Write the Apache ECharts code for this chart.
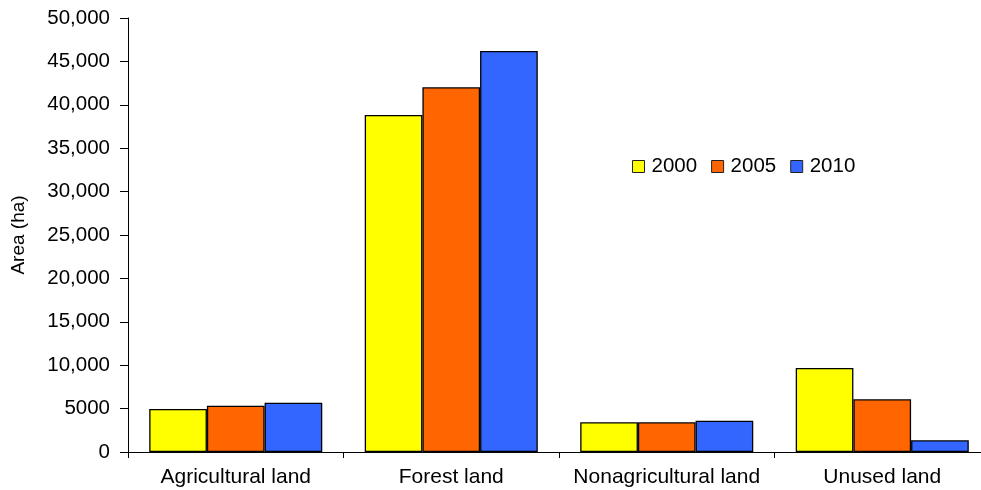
<!DOCTYPE html>
<html>
<head>
<meta charset="utf-8">
<script src="https://cdn.jsdelivr.net/npm/echarts@6/dist/echarts.min.js"></script>
<style>
  html, body { margin: 0; padding: 0; background: #fff; overflow: hidden; }
  /* the drawing surface is a little wider than the window so the category
     axis can run past the right edge */
  #chart { width: 1000px; height: 490px; }
</style>
</head>
<body>
<div id="chart"></div>
<script>
// Land-use area by category, three survey years
const categories = ['Agricultural land', 'Forest land', 'Nonagricultural land', 'Unused land'];
const years = ['2000', '2005', '2010'];
const area2000 = [4950, 38830, 3420, 9680];
const area2005 = [5330, 42020, 3420, 6070];
const area2010 = [5680, 46200, 3600, 1350];
const yTicks = [0, 5000, 10000, 15000, 20000, 25000, 30000, 35000, 40000, 45000, 50000];
const colors = ['#FFFF00', '#FF6600', '#3366FF'];

const font = 'Liberation Sans, Arial, sans-serif';
const seriesData = [area2000, area2005, area2010];

// Four-digit values are written without a thousands separator
function fmt(v) {
  if (v < 10000) return String(v);
  return v.toLocaleString('en-US');
}

const chart = echarts.init(document.getElementById('chart'));
chart.setOption({
  animation: false,
  backgroundColor: '#fff',
  color: colors,
  legend: {
    left: 632,
    top: 156,
    padding: 0,
    itemWidth: 12,
    itemHeight: 12,
    itemGap: 14,
    icon: 'rect',
    itemStyle: { borderColor: '#222', borderWidth: 1 },
    textStyle: { fontFamily: font, fontSize: 20.5, color: '#000', padding: [0, 0, 0, 2] },
    data: years
  },
  grid: { left: 128, width: 862, top: 18, bottom: 38, containLabel: false },
  xAxis: {
    type: 'category',
    data: categories,
    axisLine: { lineStyle: { color: '#000', width: 1 } },
    axisTick: { show: true, length: 6, inside: false, lineStyle: { color: '#000' } },
    axisLabel: { fontFamily: font, fontSize: 21, color: '#000', margin: 15, interval: 0 }
  },
  yAxis: {
    type: 'value',
    min: yTicks[0],
    max: yTicks[yTicks.length - 1],
    interval: 5000,
    name: 'Area (ha)',
    nameLocation: 'middle',
    nameGap: 100,
    nameTextStyle: { fontFamily: font, fontSize: 19, color: '#000' },
    splitLine: { show: false },
    axisLine: { show: true, lineStyle: { color: '#000', width: 1 } },
    axisTick: { show: true, length: 8, lineStyle: { color: '#000' } },
    axisLabel: { fontFamily: font, fontSize: 20.5, color: '#000', margin: 18, formatter: fmt }
  },
  series: years.map((y, i) => ({
    name: y,
    type: 'bar',
    data: seriesData[i],
    barGap: '0%',
    barCategoryGap: '19.7%',
    itemStyle: { color: colors[i], borderColor: '#000', borderWidth: 1.3 }
  }))
});
</script>
</body>
</html>
